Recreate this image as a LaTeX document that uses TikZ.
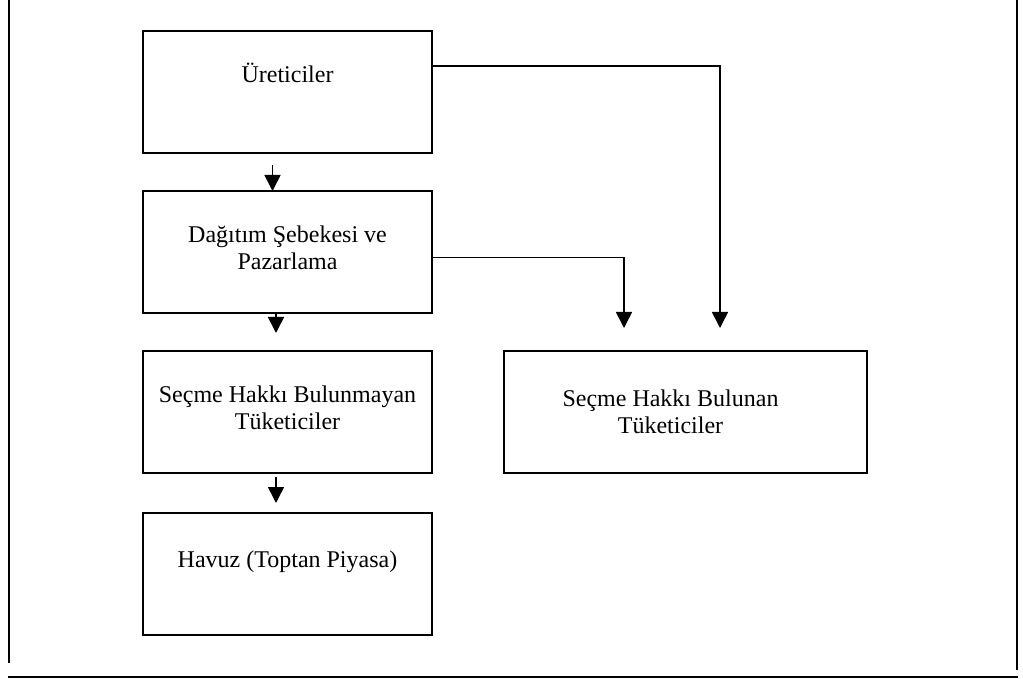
\documentclass[tikz,border=0pt]{standalone}
\usepackage{fontspec}
\setmainfont{Liberation Serif}
\usetikzlibrary{arrows.meta,calc,positioning}
\tikzstyle{kutu}=[draw, line width=1pt, minimum width=144.5pt, minimum height=61pt, inner sep=0pt, outer sep=0pt]
\tikzstyle{yazi}=[align=center, inner sep=0pt, anchor=north, font=\fontsize{12}{13.5}\selectfont]
\tikzstyle{ok}=[line width=0.8pt, -{Triangle[width=8pt,length=8pt]}]
\tikzstyle{cerceve}=[line width=1pt]

\begin{document}
\begin{tikzpicture}[x=0.5pt,y=-0.5pt]
\useasboundingbox (0,0) rectangle (1023,679);
% cerceve
\draw[cerceve] (8.5,0) -- (8.5,663);
\draw[cerceve] (1016.5,0) -- (1016.5,670);
\draw[cerceve] (8,677) -- (1018,677);

% kutular
\node[kutu] (uretici) at (287.5,92) {};
\node[kutu, below=19pt of uretici] (dagitim) {};
\node[kutu, below=19pt of dagitim] (secmeyen) {};
\node[kutu, below=20pt of secmeyen] (havuz) {};
\node[kutu, minimum width=181.5pt, right=36pt of secmeyen] (secen) {};

% yazilar
\node[yazi] (ureticiT) at ($(uretici.north)+(0,32)$) {Üreticiler};
\node[yazi] (dagitimT) at ($(dagitim.north)+(0,34)$) {Dağıtım Şebekesi ve\\Pazarlama};
\node[yazi] (secmeyenT) at ($(secmeyen.north)+(0,34)$) {Seçme Hakkı Bulunmayan\\Tüketiciler};
\node[yazi] (havuzT) at ($(havuz.north)+(0,37)$) {Havuz (Toptan Piyasa)};
\node[yazi] (secenT) at ($(secen.north)+(-15,38)$) {Seçme Hakkı Bulunan\\Tüketiciler};

% oklar
\coordinate (o1) at ($(uretici.south)+(-15,12)$);
\draw[ok] (o1) -- (o1 |- dagitim.north);
\coordinate (o2) at ($(dagitim.south)+(-11.5,20)$);
\draw[ok] (dagitim.south -| o2) -- (o2);
\coordinate (o3) at ($(secmeyen.south)+(-11.5,30)$);
\draw[ok] ($(secmeyen.south)+(-11.5,4)$) -- (o3);
\coordinate (k1) at ($(secen.north)+(34.5,-23)$);
\coordinate (k2) at ($(secen.north)+(-61.5,-23)$);
\draw[ok] ($(uretici.east)+(0,-26)$) -| (k1);
\draw[ok] ($(dagitim.east)+(0,5.5)$) -| (k2);
\end{tikzpicture}
\end{document}
